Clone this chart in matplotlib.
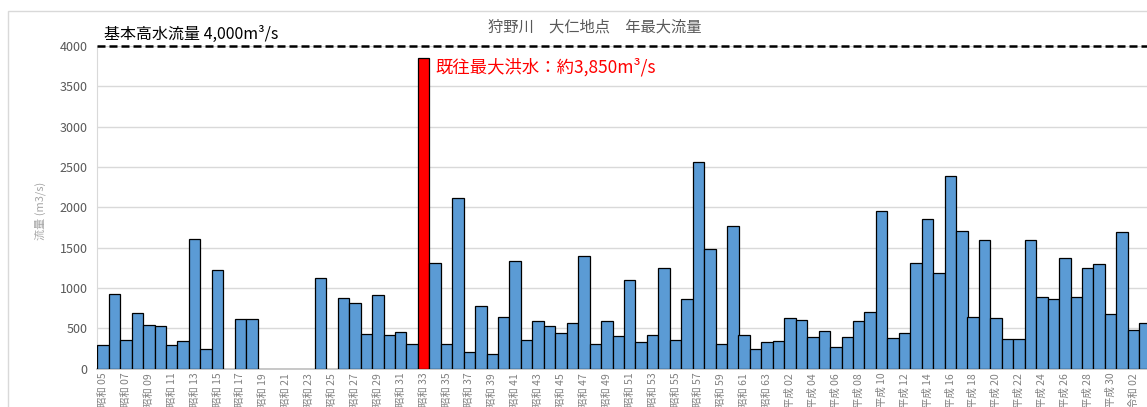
import numpy as np
import matplotlib
matplotlib.use('Agg')
from matplotlib import pyplot as plt
from matplotlib.patches import Rectangle

plt.rcParams['font.family'] = ['Noto Sans CJK JP', 'DejaVu Sans']

# 年（西暦）と年最大流量 (m3/s)、欠測は nan
years = list(range(1930, 2022))
flow = [290, 930, 355, 695, 545, 525, 295, 345, 1607, 240,
        1220, np.nan, 610, 617, np.nan, np.nan, np.nan, np.nan, np.nan, 1128,
        np.nan, 880, 820, 430, 915, 420, 455, 312, 3850, 1306,
        309, 2119, 206, 775, 181, 638, 1338, 354, 585, 531,
        440, 565, 1400, 300, 585, 403, 1095, 325, 416, 1244,
        354, 868, 2565, 1483, 309, 1764, 416, 247, 330, 346,
        626, 605, 395, 469, 267, 395, 597, 700, 1950, 379,
        440, 1306, 1855, 1189, 2384, 1703, 646, 1591, 626, 374,
        374, 1591, 893, 868, 1368, 893, 1244, 1294, 679, 1698,
        481, 564]
max_year = 1958
plan_flow = 4000

def era_label(y):
    if y < 1989:
        return '昭和 %02d' % (y - 1925)
    if y < 2019:
        return '平成 %02d' % (y - 1988)
    return '令和 %02d' % (y - 2018)

labels = [era_label(y) for y in years]

W, H = 1147, 407
fig = plt.figure(figsize=(W / 100, H / 100), dpi=100)
# 外枠
fig.patches.append(Rectangle((8 / W, -0.1), 1.2, 1 - 11 / H + 0.1, transform=fig.transFigure,
                             fill=False, edgecolor='#D9D9D9', lw=1))

x0, x1 = 97.3, 1147
y0, y1 = 368.7, 45.9
ax = fig.add_axes([x0 / W, (H - y0) / H, (x1 - x0) / W, (y0 - y1) / H])

xs = np.arange(len(years))
vals = np.array(flow, dtype=float)
ok = ~np.isnan(vals)
colors = ['#FF0000' if y == max_year else '#5B9BD5' for y in years]
ax.bar(xs[ok], vals[ok], width=1.0, color=np.array(colors)[ok],
       edgecolor='black', linewidth=0.9, zorder=3)

ax.axhline(plan_flow, color='black', lw=1.8, ls=(0, (3.2, 1.6)), zorder=4, clip_on=False)

ax.set_ylim(0, 4000)
ax.set_xlim(-0.5, (x1 - x0) / 11.45 - 0.5)
ax.set_yticks(np.arange(0, 4001, 500))
ax.grid(axis='y', color='#D9D9D9', lw=1, zorder=0)
ax.set_xticks(xs[::2])
ax.set_xticklabels(labels[::2], rotation=90, fontsize=7.5, color='#808080')
ax.tick_params(axis='x', length=0, pad=3)
ax.tick_params(axis='y', length=0, pad=7, labelsize=9, labelcolor='#595959')
for s in ['top', 'right']:
    ax.spines[s].set_visible(False)
ax.spines['left'].set_color('#D9D9D9')
ax.spines['bottom'].set_color('#BFBFBF')
ax.spines['bottom'].set_linewidth(1.2)

fig.text(40 / W, 1 - 211 / H, '流量 (m3/s)', rotation=90, fontsize=8, color='#A6A6A6',
         ha='center', va='center')
fig.text(595 / W, 1 - 27 / H, '狩野川　大仁地点　年最大流量', fontsize=11, color='#595959',
         ha='center', va='center')
ax.text(0.08, 4140, '基本高水流量 4,000m³/s', fontsize=11.5, color='black',
        ha='left', va='center')
ax.text(29.0, 3738, '既往最大洪水：約3,850m³/s', fontsize=12.5, color='#FF0000',
        ha='left', va='center')

fig.savefig('out.png', dpi=100)
